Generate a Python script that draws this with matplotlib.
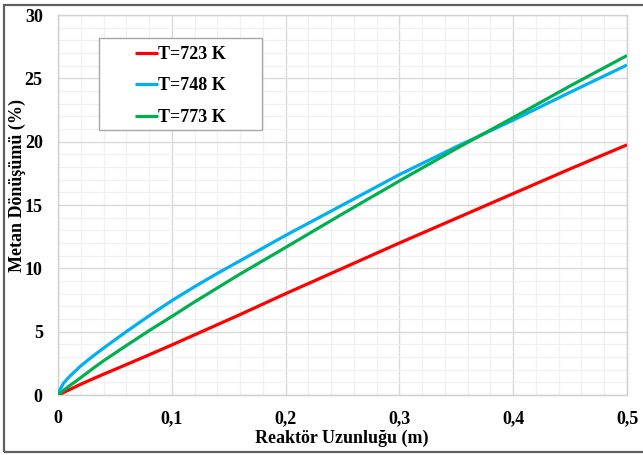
import matplotlib
matplotlib.use("Agg")
import matplotlib.pyplot as plt
from matplotlib.patches import Rectangle
from matplotlib.ticker import MultipleLocator, FuncFormatter

# reactor length (m)
x = [0, 0.005, 0.01, 0.02, 0.03, 0.04, 0.06, 0.08, 0.10, 0.12, 0.14, 0.16,
     0.20, 0.25, 0.30, 0.35, 0.40, 0.45, 0.50]
# methane conversion (%)
t723 = [0, 0.2, 0.42, 0.85, 1.25, 1.64, 2.4, 3.17, 3.95, 4.75, 5.55, 6.35,
        8.0, 10.0, 12.0, 13.95, 15.9, 17.85, 19.75]
t748 = [0.15, 0.95, 1.45, 2.3, 3.02, 3.7, 5.0, 6.25, 7.45, 8.55, 9.6, 10.6,
        12.6, 15.0, 17.4, 19.6, 21.7, 23.9, 26.05]
t773 = [0, 0.38, 0.72, 1.37, 2.05, 2.7, 3.9, 5.08, 6.2, 7.35, 8.45, 9.55,
        11.65, 14.3, 16.9, 19.45, 21.9, 24.4, 26.8]
labels = ["T=723 K", "T=748 K", "T=773 K"]
colors = ["#FF0000", "#00B0F0", "#00B050"]

plt.rcParams["font.family"] = ["Liberation Serif", "DejaVu Serif"]
plt.rcParams["font.weight"] = "bold"
FS = 13

W, H = 643, 455
fig = plt.figure(figsize=(W / 100, H / 100), dpi=100)
ax = fig.add_axes([58 / W, 1 - 395 / H, (627 - 58) / W, (395 - 15) / H])

for ys, lab, c in zip([t723, t748, t773], labels, colors):
    ax.plot(x, ys, color=c, lw=2.3, label=lab, solid_capstyle="butt", zorder=3)

ax.set_xlim(0, 0.5)
ax.set_ylim(0, 30)
ax.xaxis.set_major_locator(MultipleLocator(0.1))
ax.xaxis.set_minor_locator(MultipleLocator(0.02))
ax.yaxis.set_major_locator(MultipleLocator(5))
ax.yaxis.set_minor_locator(MultipleLocator(1))
ax.xaxis.set_major_formatter(FuncFormatter(lambda v, p: "0" if v == 0 else f"{v:.1f}".replace(".", ",")))
ax.grid(which="major", color="#d9d9d9", lw=1.0)
ax.grid(which="minor", color="#f0f0f0", lw=0.9)
ax.set_axisbelow(True)
for s in ax.spines.values():
    s.set_color("#d0d0d0")
    s.set_linewidth(1.0)
ax.tick_params(which="both", length=0)
ax.tick_params(axis="y", pad=11, labelsize=FS)
ax.tick_params(axis="x", pad=11, labelsize=FS)
for t in ax.get_xticklabels() + ax.get_yticklabels():
    t.set_fontweight("bold")

fig.text(342 / W, 1 - 438 / H, "Reaktör Uzunluğu (m)", fontsize=FS,
         fontweight="bold", ha="center", va="center")
fig.text(17 / W, 1 - 186 / H, "Metan Dönüşümü (%)", fontsize=FS,
         fontweight="bold", ha="center", va="center", rotation=90)

# legend frame drawn separately (Excel-style wide padding)
ax.add_patch(Rectangle((99 / W, 1 - 130 / H), 163 / W, 92 / H, transform=fig.transFigure,
                       facecolor="white", edgecolor="#a6a6a6", lw=1.0, zorder=4))
leg = ax.legend(loc="upper left", bbox_to_anchor=(135 / W, 1 - 46 / H),
                bbox_transform=fig.transFigure, frameon=False,
                prop={"size": FS, "weight": "bold"}, handlelength=1.25,
                handletextpad=0.0, labelspacing=0.8, borderpad=0,
                borderaxespad=0)
leg.set_zorder(5)
for h in leg.get_lines():
    h.set_linewidth(2.3)

fig.patches.append(Rectangle((4 / W, 3 / H), 1.2, 1 - 8 / H, transform=fig.transFigure,
                             fill=False, edgecolor="#606060", lw=1.6))

fig.savefig("out.png", dpi=100)
